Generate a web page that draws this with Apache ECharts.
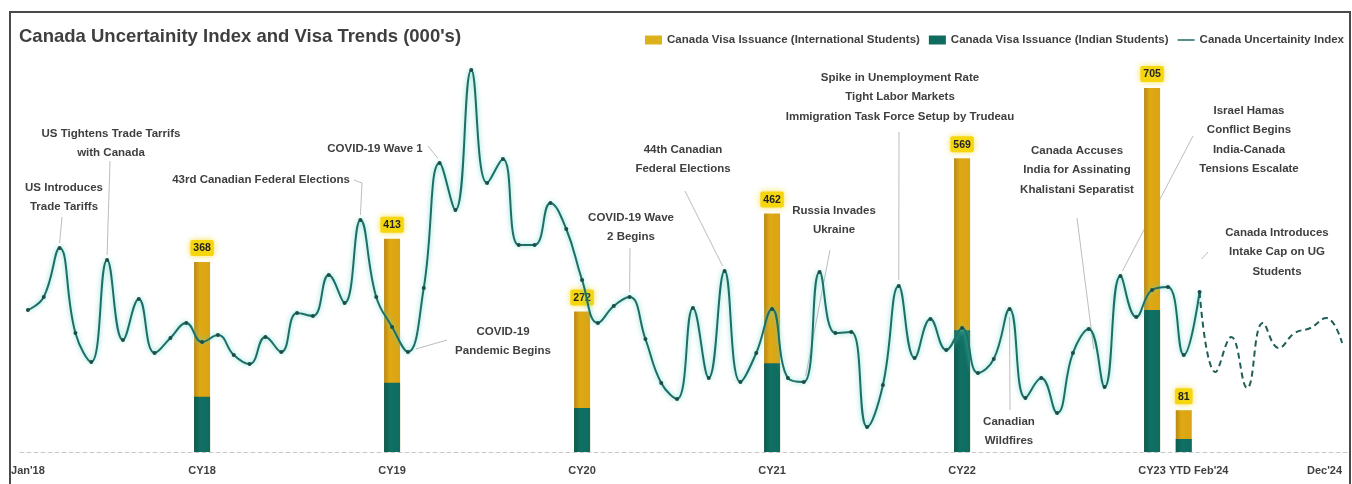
<!DOCTYPE html>
<html>
<head>
<meta charset="utf-8">
<script src="https://cdn.jsdelivr.net/npm/echarts@6/dist/echarts.min.js"></script>
<style>
html,body{margin:0;padding:0;background:#fff;}
#chart{width:1352px;height:484px;}
</style>
</head>
<body>
<div id="chart"></div>
<script>
// ---------- DATA ----------
const months = [
 "Jan'18","Feb'18","Mar'18","Apr'18","May'18","Jun'18","Jul'18","Aug'18","Sep'18","Oct'18","Nov'18","Dec'18",
 "Jan'19","Feb'19","Mar'19","Apr'19","May'19","Jun'19","Jul'19","Aug'19","Sep'19","Oct'19","Nov'19","Dec'19",
 "Jan'20","Feb'20","Mar'20","Apr'20","May'20","Jun'20","Jul'20","Aug'20","Sep'20","Oct'20","Nov'20","Dec'20",
 "Jan'21","Feb'21","Mar'21","Apr'21","May'21","Jun'21","Jul'21","Aug'21","Sep'21","Oct'21","Nov'21","Dec'21",
 "Jan'22","Feb'22","Mar'22","Apr'22","May'22","Jun'22","Jul'22","Aug'22","Sep'22","Oct'22","Nov'22","Dec'22",
 "Jan'23","Feb'23","Mar'23","Apr'23","May'23","Jun'23","Jul'23","Aug'23","Sep'23","Oct'23","Nov'23","Dec'23",
 "Jan'24","Feb'24","Mar'24","Apr'24","May'24","Jun'24","Jul'24","Aug'24","Sep'24","Oct'24","Nov'24","Dec'24"
];
// Canada Uncertainity Index (actual, Jan'18 - Mar'24)
const indexActual = [
 142,155,204,119,90,192,112,153,99,114,129,110,
 117,97,88,115,100,139,136,177,149,232,155,125,
 100,164,289,242,382,269,293,207,207,249,223,172,
 129,146,155,113,69,53,144,74,181,70,99,143,
 74,70,180,119,120,25,67,166,94,133,102,124,
 79,93,143,54,74,39,99,123,65,176,135,162,
 165,97,160
];
// Projected (dashed) Mar'24 - Dec'24
const indexProjMonths = ["Mar'24","Apr'24","May'24","Jun'24","Jul'24","Aug'24","Sep'24","Oct'24","Nov'24","Dec'24"];
const indexProj = [160,80,115,64,129,104,119,124,134,109];

// Visa issuance (000's)
const barMonths = ["Dec'18","Dec'19","Dec'20","Dec'21","Dec'22","Dec'23","Feb'24"];
const intlStudents = [368,413,272,462,569,705,81];
const indianStudents = [107,134,85,172,236,275,25];

// X-axis tick labels
const tickMonths = ["Jan'18","Dec'18","Dec'19","Dec'20","Dec'21","Dec'22","Dec'23","Feb'24","Dec'24"];
const tickTexts  = ["Jan'18","CY18","CY19","CY20","CY21","CY22","CY23","YTD Feb'24","Dec'24"];

// Annotations
const annTexts = [
 "US Introduces\nTrade Tariffs",
 "US Tightens Trade Tarrifs\nwith Canada",
 "43rd Canadian Federal Elections",
 "COVID-19 Wave 1",
 "COVID-19\nPandemic Begins",
 "COVID-19 Wave\n2 Begins",
 "44th Canadian\nFederal Elections",
 "Russia Invades\nUkraine",
 "Spike in Unemployment Rate\nTight Labor Markets\nImmigration Task Force Setup by Trudeau",
 "Canadian\nWildfires",
 "Canada Accuses\nIndia for Assinating\nKhalistani Separatist",
 "Israel Hamas\nConflict Begins\nIndia-Canada\nTensions Escalate",
 "Canada Introduces\nIntake Cap on UG\nStudents"
];
const annMonths = ["Mar'18","Jun'18","Oct'19","Mar'20","Jan'20","Mar'21","Sep'21","Feb'22","Aug'22","Mar'23","Aug'23","Oct'23","Mar'24"];

// ---------- LAYOUT (annotation text centre x / first-line centre y, leader start, end offset) ----------
const annLayout = [
 {x:64,  y:188, s:[62,217],  d:[0,-5]},
 {x:111, y:134, s:[110,161], d:[0,-5]},
 {x:261, y:180, s:[354,180], m:[362,183], d:[0,-5]},
 {x:375, y:149, s:[428,146], d:[-2,-5]},
 {x:503, y:332, s:[447,340], d:[8,-3]},
 {x:631, y:218, s:[630,248], d:[0,-5]},
 {x:683, y:150, s:[685,191], d:[-2,-5]},
 {x:834, y:211, s:[830,250], d:[2,-6]},
 {x:900, y:78,  s:[899,132], d:[0,-6]},
 {x:1009,y:422, s:[1010,410],d:[0,8]},
 {x:1077,y:151, s:[1077,218],d:[5,20]},
 {x:1249,y:111, s:[1193,136],d:[2,-5]},
 {x:1277,y:233, s:[1208,252],d:[2,-33]}
];

const tickMap = {};
tickMonths.forEach((m,i)=>{tickMap[m]=tickTexts[i];});

const chart = echarts.init(document.getElementById('chart'), null, {renderer:'canvas'});
const FONT = "'Liberation Sans', Arial, sans-serif";
const TXT = '#3f3f3f';

const goldGrad = new echarts.graphic.LinearGradient(0,0,1,0,[
 {offset:0,color:'#b98712'},{offset:0.35,color:'#dfa914'},{offset:1,color:'#d9a313'}]);
const tealGrad = new echarts.graphic.LinearGradient(0,0,1,0,[
 {offset:0,color:'#0b5a50'},{offset:0.4,color:'#107064'},{offset:1,color:'#0f6b5f'}]);

const option = {
 backgroundColor:'#ffffff',
 animation:false,
 title:{
  text:"Canada Uncertainity Index and Visa Trends (000's)",
  left:19, top:27, padding:0,
  textStyle:{fontFamily:FONT, fontSize:18.5, fontWeight:'bold', color:TXT}
 },
 legend:{
  right:3, top:29, itemGap:9, itemWidth:17, itemHeight:9,
  textStyle:{fontFamily:FONT, fontSize:11.5, fontWeight:'bold', color:TXT},
  data:[
   {name:'Canada Visa Issuance (International Students)', icon:'rect', itemStyle:{color:'#dcb21a'}},
   {name:'Canada Visa Issuance (Indian Students)', icon:'rect', itemStyle:{color:'#0f6b5f'}},
   {name:'Canada Uncertainity Index', icon:'path://M0,0h0.05v0.05h-0.05zM0,3.6h19v1.8h-19zM0,8.95h0.05v0.05h-0.05z', itemStyle:{color:'#1f6e66'}}
  ]
 },
 grid:{left:20, right:2, top:39, bottom:32, containLabel:false},
 xAxis:{
  type:'category', data:months, boundaryGap:true,
  axisLine:{show:true, lineStyle:{color:'#c8c8c8', type:[4,3], width:1}},
  axisTick:{show:false},
  splitLine:{show:false},
  axisLabel:{
   interval:0, margin:13, alignMaxLabel:'right',
   fontFamily:FONT, fontSize:11, fontWeight:'bold', color:TXT,
   formatter:(v)=>{
     const t = tickMap[v]||'';
     return v === "Feb'24" ? '{s|'+t+'}' : t;
   },
   rich:{s:{fontFamily:FONT, fontSize:11, fontWeight:'bold', color:TXT, padding:[0,0,0,30]}}
  }
 },
 yAxis:[
  {type:'value', min:0, max:800, show:false, splitLine:{show:false}},
  {type:'value', min:0, max:413, show:false, splitLine:{show:false}}
 ],
 series:[
  {
   name:'Canada Visa Issuance (International Students)', type:'bar', yAxisIndex:0,
   barWidth:16, barGap:'-100%', z:2,
   itemStyle:{color:goldGrad},
   label:{
    show:true, position:'top', distance:6,
    fontFamily:FONT, fontSize:10.5, fontWeight:'bold', color:'#222',
    backgroundColor:'#f6d60f', padding:[3,3,2,3], borderRadius:2,
    shadowBlur:6, shadowColor:'rgba(245,220,60,0.9)'
   },
   data: barMonths.map((m,i)=>[m,intlStudents[i]])
  },
  {
   name:'Canada Visa Issuance (Indian Students)', type:'bar', yAxisIndex:0,
   barWidth:16, barGap:'-100%', z:3,
   itemStyle:{color:tealGrad},
   data: barMonths.map((m,i)=>[m,indianStudents[i]])
  },
  {
   name:'Canada Uncertainity Index', type:'line', yAxisIndex:1, smooth:0.45, z:5,
   symbol:'circle', symbolSize:4, showSymbol:true,
   itemStyle:{color:'#1c4d47'},
   lineStyle:{color:'#1f6e66', width:2, shadowBlur:5, shadowColor:'rgba(95,215,200,0.9)'},
   data: indexActual.map((v,i)=>[months[i],v])
  },
  {
   name:'Canada Uncertainity Index', type:'line', yAxisIndex:1, smooth:0.45, z:5,
   symbol:'none',
   itemStyle:{color:'#1c4d47'},
   lineStyle:{color:'#1f5f58', width:2, type:[6,4]},
   data: indexProj.map((v,i)=>[indexProjMonths[i],v])
  }
 ]
};
chart.setOption(option);

// annotations anchored on the index line
const graphics = [];
annTexts.forEach((t,i)=>{
 const L = annLayout[i];
 const idx = months.indexOf(annMonths[i]);
 const val = idx < indexActual.length ? indexActual[idx] : indexProj[indexProjMonths.indexOf(annMonths[i])];
 const p = chart.convertToPixel({seriesIndex:2}, [annMonths[i], val]);
 const end = [p[0]+L.d[0], p[1]+L.d[1]];
 const pts = L.m ? [L.s, L.m, end] : [L.s, end];
 graphics.push({type:'polyline', z:1, silent:true, shape:{points:pts},
   style:{stroke:'#bdbdbd', lineWidth:1, fill:null}});
 graphics.push({type:'text', z:10, silent:true,
   style:{text:t, x:L.x, y:L.y-10, textAlign:'center', textVerticalAlign:'top',
     font:"bold 11.5px "+FONT, fill:TXT, lineHeight:19.5}});
});
// chart frame
graphics.push({type:'rect', z:0, silent:true, shape:{x:10,y:12,width:1340,height:480},
  style:{fill:null, stroke:'#4a4a4a', lineWidth:2}});
chart.setOption({graphic:graphics});
</script>
</body>
</html>
